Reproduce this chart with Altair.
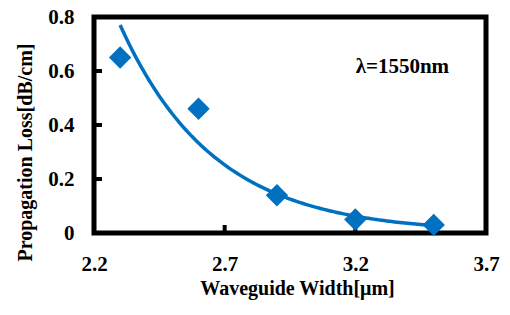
import altair as alt
import pandas as pd

widths = [2.3, 2.6, 2.9, 3.2, 3.5]
losses = [0.65, 0.46, 0.14, 0.05, 0.03]

x_ticks = [2.2, 2.7, 3.2, 3.7]
y_ticks = [0, 0.2, 0.4, 0.6, 0.8]

note_text = ["λ=1550nm"]
note_x = [3.38]
note_y = [0.615]

BLUE = "#0070C0"
FONT = "Liberation Serif"

df = pd.DataFrame({"width": widths, "loss": losses})
note_df = pd.DataFrame({"t": note_text, "x": note_x, "y": note_y})
ytick_df = pd.DataFrame({"x": [x_ticks[0]] * len(y_ticks), "y": y_ticks})
xtick_df = pd.DataFrame({"x": x_ticks, "y": [y_ticks[0]] * len(x_ticks)})

xscale = alt.Scale(domain=[x_ticks[0], x_ticks[-1]], nice=False, zero=False)
yscale = alt.Scale(domain=[y_ticks[0], y_ticks[-1]], nice=False, zero=False)

xaxis = alt.Axis(values=x_ticks, format=".1f", title="Waveguide Width[μm]",
                 grid=False, domain=False, ticks=False, tickSize=0,
                 labelPadding=20, labelFontSize=21,
                 labelFlush=False, labelOverlap=False,
                 labelFont=FONT, labelFontWeight="bold", labelColor="black",
                 titleFont=FONT, titleFontSize=20, titleFontWeight="bold",
                 titleColor="black", titleBaseline="middle", titleX=203, titleY=55)
yaxis = alt.Axis(values=y_ticks, title="Propagation Loss[dB/cm]",
                 labelExpr="datum.value == 0 ? '0' : format(datum.value, '.1f')",
                 grid=False, domain=False, ticks=False, tickSize=0,
                 labelPadding=20, labelFontSize=21,
                 labelFlush=False, labelOverlap=False,
                 labelFont=FONT, labelFontWeight="bold", labelColor="black",
                 titleFont=FONT, titleFontSize=20, titleFontWeight="bold",
                 titleColor="black", titleBaseline="middle", titleX=-69, titleY=135)

seq = f"sequence({min(widths)}, {max(widths) + 0.001}, 0.01)"

yticks = (
    alt.Chart(ytick_df)
    .mark_tick(orient="horizontal", color="black", size=9, thickness=4,
               xOffset=3.5, opacity=1)
    .encode(x=alt.X("x:Q", scale=xscale, axis=xaxis),
            y=alt.Y("y:Q", scale=yscale, axis=yaxis))
)

xticks = (
    alt.Chart(xtick_df)
    .mark_tick(orient="vertical", color="black", size=9, thickness=4,
               yOffset=-3.5, opacity=1)
    .encode(x=alt.X("x:Q", scale=xscale, axis=xaxis),
            y=alt.Y("y:Q", scale=yscale, axis=yaxis))
)

fit = (
    alt.Chart(df)
    .transform_calculate(ly="log(datum.loss)")
    .transform_regression("width", "ly", params=True)
    .transform_calculate(xs=seq)
    .transform_flatten(["xs"])
    .transform_calculate(fy="exp(datum.coef[0] + datum.coef[1] * datum.xs)")
    .mark_line(color=BLUE, strokeWidth=3.5)
    .encode(x=alt.X("xs:Q", scale=xscale, axis=xaxis),
            y=alt.Y("fy:Q", scale=yscale, axis=yaxis))
)

points = (
    alt.Chart(df)
    .mark_point(shape="diamond", filled=True, size=500, color=BLUE, opacity=1)
    .encode(x=alt.X("width:Q", scale=xscale, axis=xaxis),
            y=alt.Y("loss:Q", scale=yscale, axis=yaxis))
)

note = (
    alt.Chart(note_df)
    .mark_text(font=FONT, fontSize=21, fontWeight="bold", color="black")
    .encode(x=alt.X("x:Q", scale=xscale, axis=xaxis),
            y=alt.Y("y:Q", scale=yscale, axis=yaxis),
            text="t:N")
)

chart = (
    alt.layer(yticks, xticks, fit, points, note)
    .properties(width=392, height=216,
                autosize=alt.AutoSizeParams(type="none"),
                padding={"left": 86, "top": 9, "right": 14, "bottom": 67})
    .configure_view(stroke="black", strokeWidth=5)
)

chart.save("out.html", embed_options={"renderer": "svg", "actions": False})
